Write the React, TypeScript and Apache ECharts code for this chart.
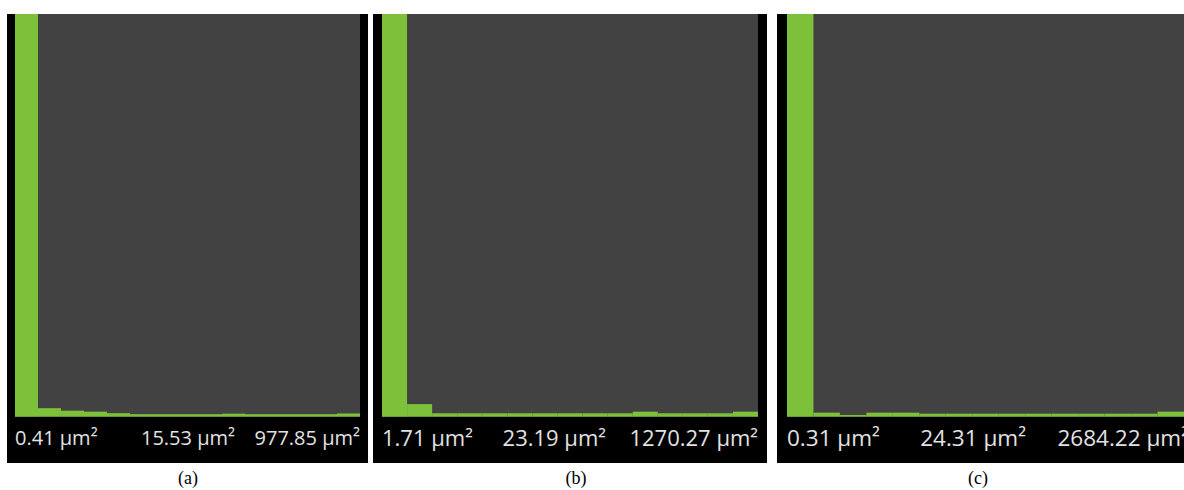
import React, { useEffect, useRef } from "react";
import * as echarts from "echarts";

// 15 histogram bins per panel (bar heights, first bar is clipped at the top)
const BINS = ["1", "2", "3", "4", "5", "6", "7", "8", "9", "10", "11", "12", "13", "14", "15"];
const Y_MAX = 400;
const panelA = [400, 8.5, 6, 5, 3.5, 2.5, 2.5, 2.5, 2.5, 3, 2.5, 2.5, 2.5, 2.5, 3.2];
const panelB = [400, 12.5, 3.4, 3.4, 3.4, 3.4, 3.4, 3.4, 3.4, 3.4, 5, 3.4, 3.4, 3.4, 5];
const panelC = [400, 4, 1.7, 4, 4, 3, 3, 3, 3, 3, 3, 3, 3, 3, 5];

const labelsA = ["0.41 µm²", "15.53 µm²", "977.85 µm²"];
const labelsB = ["1.71 µm²", "23.19 µm²", "1270.27 µm²"];
const labelsC = ["0.31 µm²", "24.31 µm²", "2684.22 µm²"];
const captions = ["(a)", "(b)", "(c)"];

const GREEN = "#7dc13a";
const PLOT_BG = "#424242";
const TOP = 14;
const PLOT_H = 402.7;

// panel geometry: frame, plot area and label anchors
const panels = [
  { data: panelA, labels: labelsA, frameX: 7, frameW: 361, plotX: 15, plotW: 345, midRight: 235, rightX: 360, font: 20, cap: 188 },
  { data: panelB, labels: labelsB, frameX: 373, frameW: 394, plotX: 382, plotW: 376, midRight: 606, rightX: 758, font: 22, cap: 576 },
  { data: panelC, labels: labelsC, frameX: 777, frameW: 430, plotX: 787, plotW: 399, midRight: 1026, rightX: 1189, font: 22.5, cap: 978 },
];

export default function App() {
  const ref = useRef<HTMLDivElement>(null);
  useEffect(() => {
    if (!ref.current) return;
    const chart = echarts.init(ref.current, null, { renderer: "svg" });
    const graphic: any[] = [];
    panels.forEach((p, i) => {
      const textStyle = {
        fill: "#e2e2e2",
        fontFamily: "Open Sans",
        fontSize: p.font,
        verticalAlign: "middle" as const,
      };
      graphic.push({
        type: "rect",
        z: -10,
        shape: { x: p.frameX, y: TOP, width: p.frameW, height: 449 },
        style: { fill: "#000" },
      });
      graphic.push({
        type: "text",
        z: 10,
        x: p.plotX,
        y: 437,
        style: { ...textStyle, text: p.labels[0], align: "left" },
      });
      graphic.push({
        type: "text",
        z: 10,
        x: p.midRight,
        y: 437,
        style: { ...textStyle, text: p.labels[1], align: "right" },
      });
      graphic.push({
        type: "text",
        z: 10,
        x: p.rightX,
        y: 437,
        style: { ...textStyle, text: p.labels[2], align: "right" },
      });
      graphic.push({
        type: "text",
        z: 10,
        x: p.cap,
        y: 478,
        style: {
          text: captions[i],
          fill: "#000",
          fontFamily: "Liberation Serif",
          fontSize: 18,
          align: "center",
          verticalAlign: "middle",
        },
      });
    });

    chart.setOption({
      animation: false,
      backgroundColor: "#fff",
      graphic,
      grid: panels.map((p) => ({
        left: p.plotX,
        top: TOP,
        width: p.plotW,
        height: PLOT_H,
        show: true,
        backgroundColor: PLOT_BG,
        borderWidth: 0,
        containLabel: false,
      })),
      xAxis: panels.map((_, i) => ({
        type: "category",
        gridIndex: i,
        data: BINS,
        show: false,
        boundaryGap: true,
      })),
      yAxis: panels.map((_, i) => ({
        type: "value",
        gridIndex: i,
        min: 0,
        max: Y_MAX,
        show: false,
      })),
      series: panels.map((p, i) => ({
        type: "bar",
        xAxisIndex: i,
        yAxisIndex: i,
        data: p.data,
        barCategoryGap: "0%",
        itemStyle: { color: GREEN },
        silent: true,
      })),
    });
    return () => chart.dispose();
  }, []);
  return (
    <div
      ref={ref}
      style={{ position: "fixed", left: 0, top: 0, width: 1184, height: 490 }}
    />
  );
}
